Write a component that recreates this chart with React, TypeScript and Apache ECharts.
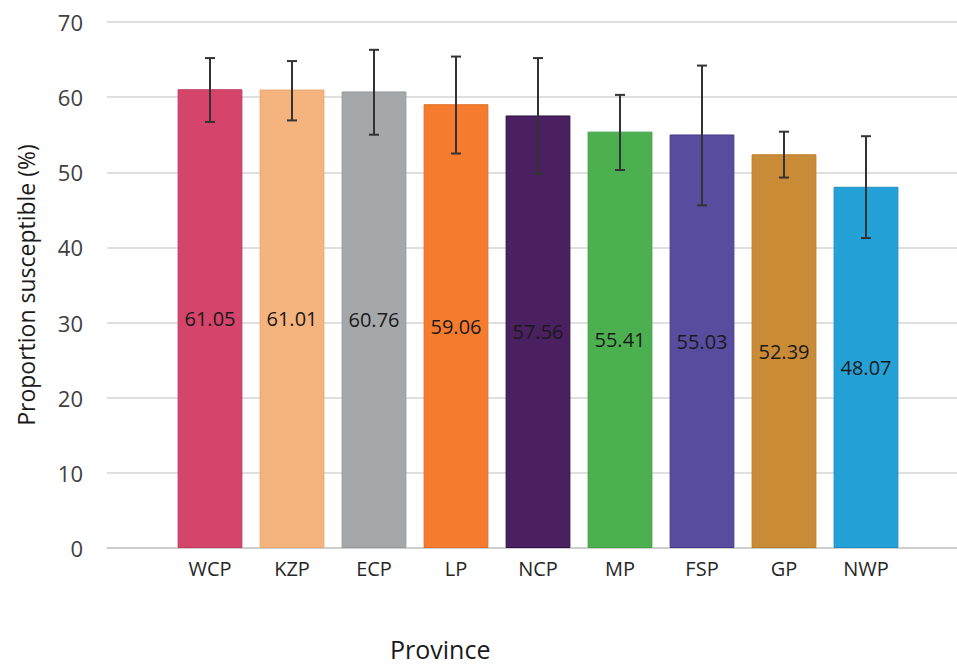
import React, { useEffect, useRef } from "react";
import * as echarts from "echarts";

const categories = ["WCP", "KZP", "ECP", "LP", "NCP", "MP", "FSP", "GP", "NWP"];
const values = [61.05, 61.01, 60.76, 59.06, 57.56, 55.41, 55.03, 52.39, 48.07];
const lowerCI = [56.7, 56.9, 55.0, 52.5, 49.8, 50.3, 45.6, 49.3, 41.25];
const upperCI = [65.2, 64.8, 66.3, 65.4, 65.2, 60.3, 64.2, 55.4, 54.8];
const barColors = ["#D4446B", "#F5B47E", "#A5A8AA", "#F57B2E", "#4A2060", "#4CB050", "#574C9E", "#C98B36", "#24A1D6"];
const barBorders = ["#C23A5E", "#E9A56E", "#969A9C", "#E46E24", "#2E1240", "#3FA044", "#453C8A", "#B87C2C", "#1E8EC2"];
const yTicks = { min: 0, max: 70, interval: 10 };

const FONT = "'Open Sans', 'Noto Sans', sans-serif";

export default function App() {
  const ref = useRef<HTMLDivElement>(null);
  useEffect(() => {
    if (!ref.current) return;
    const chart = echarts.init(ref.current, null, { renderer: "svg" });
    const top = 22;
    const bottom = 116;
    const option: any = {
      animation: false,
      backgroundColor: "#ffffff",
      grid: [
        { left: 107, right: 0, top, bottom },
        { left: 169, right: 50, top, bottom },
      ],
      xAxis: [
        {
          gridIndex: 0,
          type: "value",
          min: 0,
          max: 1,
          axisLine: { show: true, lineStyle: { color: "#c8c8c8", width: 1.5 } },
          axisTick: { show: false },
          axisLabel: { show: false },
          splitLine: { show: false },
        },
        {
          gridIndex: 1,
          type: "category",
          data: categories,
          axisLine: { show: false },
          axisTick: { show: false },
          axisLabel: { fontSize: 20, color: "#262626", margin: 10, fontFamily: FONT },
        },
      ],
      yAxis: [
        {
          gridIndex: 0,
          type: "value",
          min: yTicks.min,
          max: yTicks.max,
          interval: yTicks.interval,
          axisLine: { show: false },
          axisTick: { show: false },
          axisLabel: { fontSize: 22, color: "#404040", margin: 24, fontFamily: FONT },
          splitLine: { show: true, lineStyle: { color: "#d4d4d4", width: 1.5 } },
          name: "Proportion susceptible (%)",
          nameLocation: "middle",
          nameGap: 70,
          nameTextStyle: { fontSize: 23, color: "#1a1a1a", fontFamily: FONT },
        },
        {
          gridIndex: 1,
          type: "value",
          min: yTicks.min,
          max: yTicks.max,
          interval: yTicks.interval,
          show: false,
        },
      ],
      graphic: [
        {
          type: "text",
          left: 390,
          top: 636,
          style: { text: "Province", fontSize: 25, fill: "#1a1a1a", fontFamily: FONT },
        },
      ],
      series: [
        {
          type: "bar",
          xAxisIndex: 1,
          yAxisIndex: 1,
          barCategoryGap: "21%",
          data: values.map((v, i) => ({
            value: v,
            itemStyle: { color: barColors[i], borderColor: barBorders[i], borderWidth: 1 },
          })),
          label: {
            show: true,
            position: "inside",
            fontSize: 20,
            color: "#1a1a1a",
            fontFamily: FONT,
            formatter: (p: any) => Number(p.value).toFixed(2),
          },
        },
        {
          type: "custom",
          xAxisIndex: 1,
          yAxisIndex: 1,
          z: 10,
          data: categories.map((_, i) => [i, lowerCI[i], upperCI[i]]),
          renderItem: (params: any, api: any) => {
            const idx = api.value(0);
            const lo = api.coord([idx, api.value(1)]);
            const hi = api.coord([idx, api.value(2)]);
            const half = 5;
            const style = { stroke: "#333333", lineWidth: 2 };
            return {
              type: "group",
              children: [
                { type: "line", shape: { x1: hi[0], y1: hi[1], x2: lo[0], y2: lo[1] }, style },
                { type: "line", shape: { x1: hi[0] - half, y1: hi[1], x2: hi[0] + half, y2: hi[1] }, style },
                { type: "line", shape: { x1: lo[0] - half, y1: lo[1], x2: lo[0] + half, y2: lo[1] }, style },
              ],
            };
          },
        },
      ],
    };
    chart.setOption(option);
    return () => chart.dispose();
  }, []);
  return (
    <div
      ref={ref}
      style={{ position: "fixed", left: 0, top: 0, width: 957, height: 664 }}
    />
  );
}
